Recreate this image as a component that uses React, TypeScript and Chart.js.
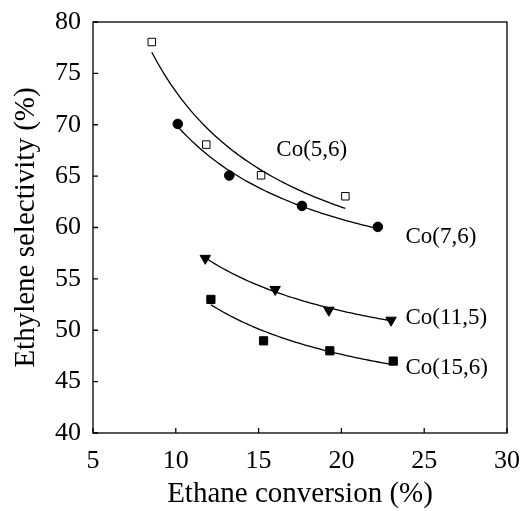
import React, { useEffect, useRef } from "react";
import { Chart, registerables } from "chart.js";

Chart.register(...registerables);

// Data
const co56X = [8.55, 11.84, 15.15, 20.24];
const co56Y = [78.05, 68.07, 65.08, 63.04];
const co76X = [10.12, 13.23, 17.62, 22.2];
const co76Y = [70.08, 65.06, 62.1, 60.06];
const co115X = [11.78, 16.0, 19.24, 23.0];
const co115Y = [57.0, 53.97, 51.95, 50.98];
const co156X = [12.12, 15.3, 19.3, 23.13];
const co156Y = [53.0, 48.97, 48.0, 47.0];

const seriesNames = ["Co(5,6)", "Co(7,6)", "Co(11,5)", "Co(15,6)"];
// label anchors (data units): left edge x, vertical centre y
const labelX = [16.07, 23.87, 23.87, 23.87];
const labelY = [67.5, 59.05, 51.2, 46.3];

const xTicks = [5, 10, 15, 20, 25, 30];
const yTicks = [40, 45, 50, 55, 60, 65, 70, 75, 80];

// least-squares trendline of the form y = a / x + b
function invFit(xs: number[], ys: number[]) {
  const n = xs.length;
  const us = xs.map((x) => 1 / x);
  const mu = us.reduce((s, v) => s + v, 0) / n;
  const my = ys.reduce((s, v) => s + v, 0) / n;
  let sxy = 0, sxx = 0;
  for (let i = 0; i < n; i++) {
    sxy += (us[i] - mu) * (ys[i] - my);
    sxx += (us[i] - mu) * (us[i] - mu);
  }
  const a = sxy / sxx;
  const b = my - a * mu;
  const lo = Math.min(...xs), hi = Math.max(...xs);
  const pts: { x: number; y: number }[] = [];
  const steps = 60;
  for (let i = 0; i <= steps; i++) {
    const x = lo + ((hi - lo) * i) / steps;
    pts.push({ x, y: a / x + b });
  }
  return pts;
}

const toPts = (xs: number[], ys: number[]) => xs.map((x, i) => ({ x, y: ys[i] }));

export default function App() {
  const ref = useRef<HTMLCanvasElement>(null);
  useEffect(() => {
    if (!ref.current) return;
    const fam = "'Liberation Serif', 'Times New Roman', serif";
    const frame = {
      id: "frame",
      afterDraw(chart: any) {
        const { ctx, chartArea: a, scales } = chart;
        ctx.save();
        ctx.strokeStyle = "#000";
        ctx.lineWidth = 1.3;
        ctx.strokeRect(a.left, a.top, a.right - a.left, a.bottom - a.top);
        ctx.beginPath();
        xTicks.forEach((v) => {
          const px = scales.x.getPixelForValue(v);
          ctx.moveTo(px, a.bottom);
          ctx.lineTo(px, a.bottom - 5);
        });
        yTicks.forEach((v) => {
          const py = scales.y.getPixelForValue(v);
          ctx.moveTo(a.left, py);
          ctx.lineTo(a.left + 5, py);
        });
        ctx.stroke();
        ctx.fillStyle = "#000";
        ctx.font = `23px ${fam}`;
        ctx.textAlign = "left";
        ctx.textBaseline = "middle";
        seriesNames.forEach((t, i) => {
          ctx.fillText(t, scales.x.getPixelForValue(labelX[i]), scales.y.getPixelForValue(labelY[i]));
        });
        ctx.restore();
      },
    };
    const fitDs = (xs: number[], ys: number[]) => ({
      type: "line" as const,
      data: invFit(xs, ys),
      borderColor: "#000",
      borderWidth: 1.3,
      pointRadius: 0,
      fill: false,
      tension: 0,
    });
    const chart = new Chart(ref.current, {
      type: "scatter",
      data: {
        datasets: [
          fitDs(co56X, co56Y),
          fitDs(co76X, co76Y),
          fitDs(co115X, co115Y),
          fitDs(co156X, co156Y),
          {
            data: toPts(co56X, co56Y),
            pointStyle: "rect",
            pointRadius: 5.3,
            backgroundColor: "#fff",
            borderColor: "#000",
            borderWidth: 1,
          },
          {
            data: toPts(co76X, co76Y),
            pointStyle: "circle",
            pointRadius: 4.8,
            backgroundColor: "#000",
            borderColor: "#000",
            borderWidth: 1,
          },
          {
            data: toPts(co115X, co115Y),
            pointStyle: "triangle",
            pointRotation: 180,
            pointRadius: 6,
            backgroundColor: "#000",
            borderColor: "#000",
            borderWidth: 1,
          },
          {
            data: toPts(co156X, co156Y),
            pointStyle: "rect",
            pointRadius: 5.8,
            backgroundColor: "#000",
            borderColor: "#000",
            borderWidth: 1,
          },
        ] as any,
      },
      options: {
        animation: false,
        responsive: false,
        layout: { padding: { left: 0, top: 22, right: 16, bottom: 0 } },
        plugins: { legend: { display: false }, tooltip: { enabled: false } },
        scales: {
          x: {
            type: "linear",
            min: 5,
            max: 30,
            afterFit: (s: any) => { s.height = 78; s.paddingLeft = 0; s.paddingRight = 0; },
            afterBuildTicks: (s: any) => { s.ticks = xTicks.map((v) => ({ value: v })); },
            grid: { display: false, drawTicks: false },
            border: { display: false },
            ticks: { color: "#000", padding: 13, font: { family: fam, size: 26 } },
            title: {
              display: true,
              text: "Ethane conversion (%)",
              color: "#000",
              font: { family: fam, size: 29 },
              padding: { top: 0, bottom: -1 },
            },
          },
          y: {
            type: "linear",
            min: 40,
            max: 80,
            afterFit: (s: any) => { s.width = 93; s.paddingTop = 0; s.paddingBottom = 0; },
            afterBuildTicks: (s: any) => { s.ticks = yTicks.map((v) => ({ value: v })); },
            grid: { display: false, drawTicks: false },
            border: { display: false },
            ticks: { color: "#000", padding: 12, font: { family: fam, size: 26 } },
            title: {
              display: true,
              text: "Ethylene selectivity (%)",
              color: "#000",
              font: { family: fam, size: 29 },
              padding: { top: 9, bottom: 0 },
            },
          },
        },
      },
      plugins: [frame],
    } as any);
    return () => chart.destroy();
  }, []);
  return (
    <div style={{ position: "absolute", left: 0, top: 0, width: 523, height: 511, background: "#fff" }}>
      <canvas ref={ref} width={523} height={511} style={{ display: "block" }} />
    </div>
  );
}
